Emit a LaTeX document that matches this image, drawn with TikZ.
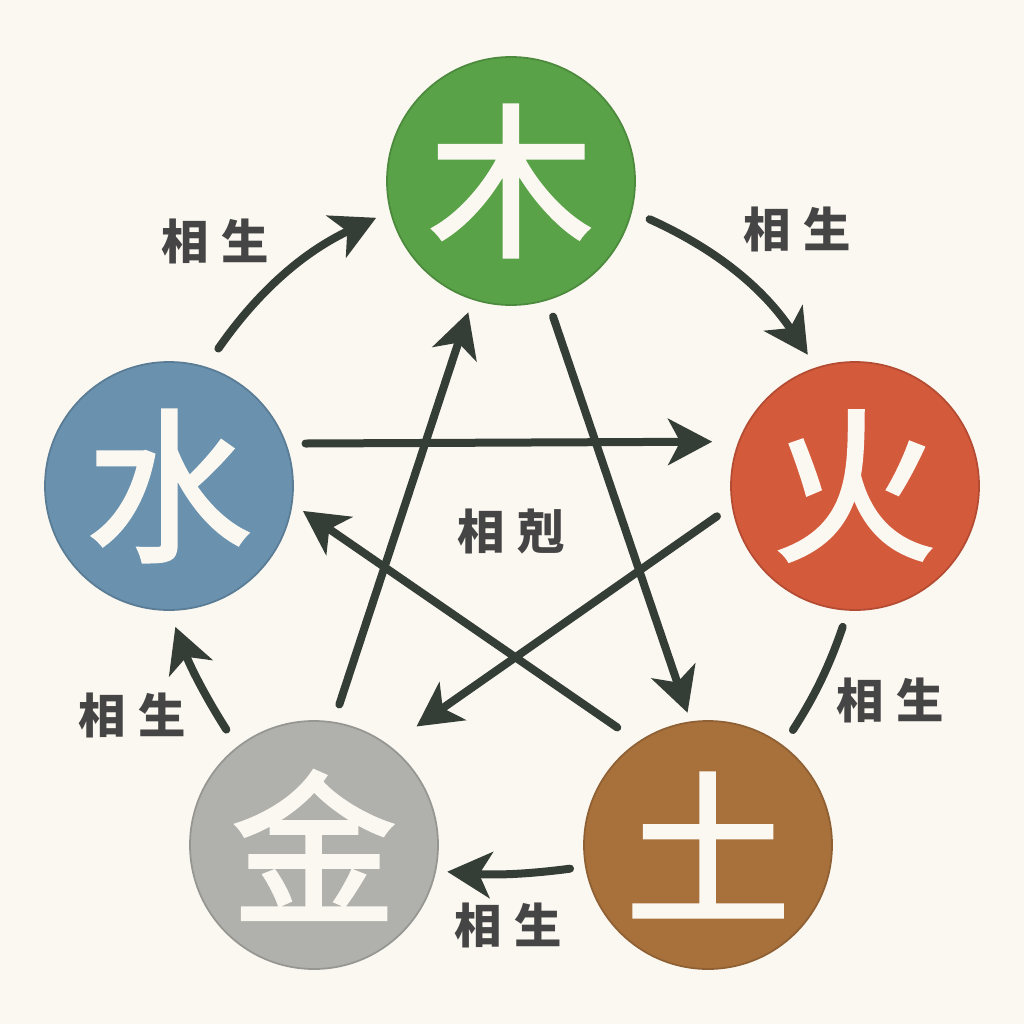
\documentclass[tikz,border=0pt]{standalone}
\usepackage{fontspec}
\usepackage{tikz}
\usetikzlibrary{arrows.meta}
\newfontfamily\cjk{Noto Sans CJK TC}
\newfontfamily\cjkglyph[FakeBold=2]{Noto Sans CJK TC}
\definecolor{paper}{HTML}{FBF8F1}
\definecolor{ink}{HTML}{343E36}
\definecolor{textgray}{HTML}{454545}
\definecolor{woodgreen}{HTML}{5AA248}
\definecolor{firered}{HTML}{D45A3C}
\definecolor{earthbrown}{HTML}{A8713C}
\definecolor{metalgray}{HTML}{B0B0AC}
\definecolor{waterblue}{HTML}{6A92AF}

\begin{document}
\begin{tikzpicture}[x=0.1mm,y=-0.1mm,
  element/.style={circle,minimum size=24.8mm,inner sep=0pt,outer sep=0pt,line width=0.5pt},
  glyph/.style={text=paper,font=\cjkglyph\fontsize{47}{47}\selectfont},
  lbl/.style={text=textgray,font=\cjk\bfseries\fontsize{13.5}{14}\selectfont},
  flow/.style={draw=ink,line width=0.8mm,line cap=round,-{Stealth[length=4.4mm,width=4.6mm,inset=1.2mm]}}]
  \fill[paper] (0,0) rectangle (1024,1024);

  \node[element,fill=woodgreen,draw=woodgreen!85!black,label={[glyph]center:木}] (wood) at (511,181) {};
  \node[element,fill=firered,draw=firered!85!black,label={[glyph]center:火}] (fire) at (855,486) {};
  \node[element,fill=earthbrown,draw=earthbrown!85!black,label={[glyph]center:土}] (earth) at (708,845) {};
  \node[element,fill=metalgray,draw=metalgray!85!black,label={[glyph]center:金}] (metal) at (314,845) {};
  \node[element,fill=waterblue,draw=waterblue!85!black,label={[glyph]center:水}] (water) at (169,486) {};

  % generating cycle
  \draw[flow,shorten <=2.3mm,shorten >=1.6mm] (water.73) to[bend left=15] (wood.194);
  \draw[flow,shorten <=2mm,shorten >=1.6mm] (wood.346) to[bend left=16] (fire.108);
  \draw[flow,-,shorten <=1.8mm,shorten >=1.9mm] (fire.267) to[bend left=7] (earth.53);
  \draw[flow,shorten <=1.6mm,shorten >=1.2mm] (earth.190) to[bend left=6] (metal.348);
  \draw[flow,shorten <=2.1mm,shorten >=1.8mm] (metal.128) to[bend left=6] (water.270);

  % overcoming star
  \draw[flow,shorten <=2mm,shorten >=2.7mm] (water.20.8) -- (fire.159.2);
  \draw[flow,shorten <=1.9mm,shorten >=3.4mm] (fire.189.3) -- (metal.53.1);
  \draw[flow,shorten <=1.9mm,shorten >=1.4mm] (metal.81.1) -- (wood.252.1);
  \draw[flow,shorten <=1.8mm,shorten >=1mm] (wood.287.7) -- (earth.98.4);
  \draw[flow,shorten <=2.6mm,shorten >=1.35mm] (earth.124.8) -- (water.352.5);

  \node[lbl] (shengA) at (215,241) {相\kern3.7pt 生};
  \node[lbl] (shengB) at (797,229) {相\kern3.7pt 生};
  \node[lbl] (shengC) at (890,700) {相\kern3.7pt 生};
  \node[lbl] (shengD) at (508,925) {相\kern3.7pt 生};
  \node[lbl] (shengE) at (132,715) {相\kern3.7pt 生};
  \node[lbl] (ke) at (511,532) {相\kern3.7pt 剋};
\end{tikzpicture}
\end{document}
